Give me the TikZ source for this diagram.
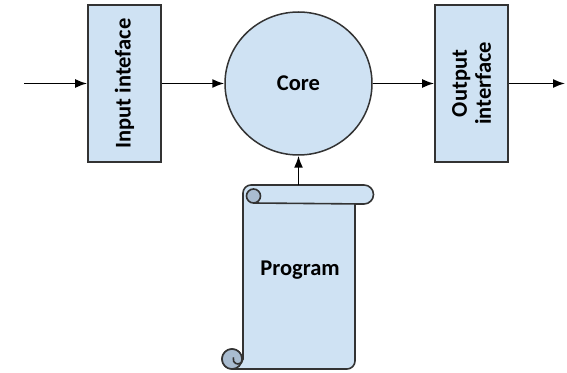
\documentclass[tikz,border=0pt]{standalone}
\usepackage{fontspec}
\setmainfont{Carlito}
\usetikzlibrary{arrows.meta,shapes.geometric}
\definecolor{boxfill}{HTML}{CFE2F3}
\definecolor{curlfill}{HTML}{A9BCD0}
\definecolor{edge}{HTML}{333333}
\tikzset{
  box/.style={draw=edge, line width=1.8pt, fill=boxfill, inner sep=2pt,
    font=\fontsize{22.5}{24}\selectfont\bfseries, align=center},
  arr/.style={draw=black, line width=1.6pt, -{Latex[length=12pt,width=9pt]}},
  outline/.style={draw=edge, line width=1.6pt, line join=round},
  lbl/.style={font=\fontsize{22.5}{24}\selectfont\bfseries, text=black}
}
\begin{document}
\begin{tikzpicture}[x=1pt,y=1pt]
\useasboundingbox (0,0) rectangle (567,372);
% nodes
\node[box, minimum width=157pt, minimum height=73pt, rotate=90] (in) at (124.5,288.5) {Input inteface};
\node[box, ellipse, line width=1.5pt, minimum width=147pt, minimum height=143pt] (core) at (298.5,288.5) {Core};
\node[box, minimum width=157pt, minimum height=73pt, rotate=90] (out) at (471.5,288.5) {Output\\interface};
\coordinate (src) at (24,288.5);
\coordinate (dst) at (565,288.5);
% scroll
\path[outline, fill=boxfill] (243,13) -- (243,179) arc[start angle=180,end angle=90,radius=8]
  -- (364,187) arc[start angle=90,end angle=-90,radius=9.5] -- (355,168) -- (355,11)
  arc[start angle=0,end angle=-90,radius=8] -- (232,3)
  arc[start angle=-90,end angle=-360,radius=10] -- cycle;
\draw[outline] (253.5,169) -- (364,168);
\draw[outline, fill=curlfill] (253.5,176) circle (7);
\draw[outline, fill=curlfill] (232,13) circle (10);
\draw[outline] (243,22) -- (243,13) arc[start angle=0,end angle=-200,radius=5];
\node[lbl] (program) at (300,102) {Program};
\coordinate (scrolltop) at (298.5,187);
% connectors
\draw[arr] (src) -- (in);
\draw[arr] (in) -- (core);
\draw[arr] (core) -- (out);
\draw[arr] (out) -- (dst);
\draw[arr] (scrolltop) -- (core);
\end{tikzpicture}
\end{document}
